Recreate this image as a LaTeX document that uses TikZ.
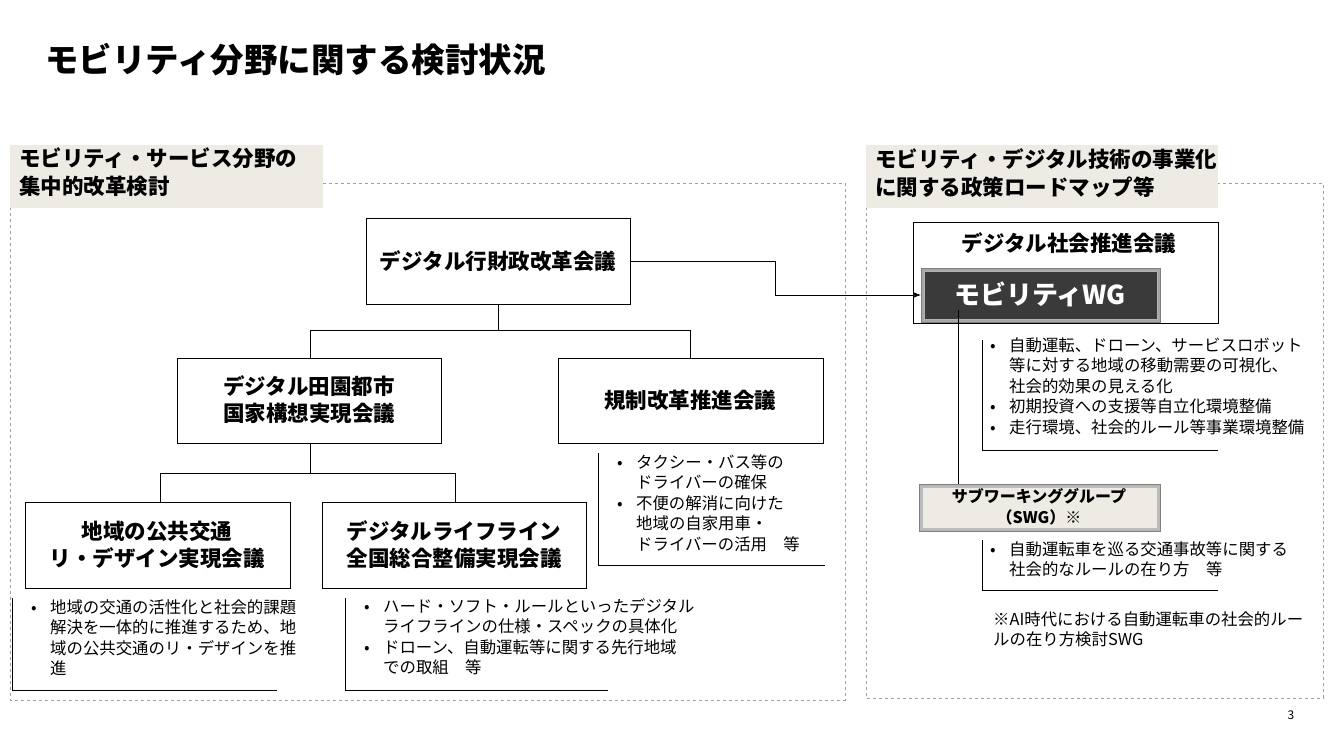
\documentclass[tikz,border=0pt]{standalone}
\usepackage{fontspec}
\setmainfont{Noto Sans CJK JP}
\usetikzlibrary{arrows.meta}
\definecolor{beige}{HTML}{EEEBE4}
\definecolor{dashg}{HTML}{A0A0A0}
\definecolor{wgdark}{HTML}{3A3A3A}
\newcommand{\bu}{\makebox[19pt][l]{•}}
\newcommand{\ind}{\hspace*{19pt}}
\begin{document}
\begin{tikzpicture}[x=1pt,y=-1pt,
  box/.style={draw,line width=0.8pt,fill=white},
  btxt/.style={font=\fontsize{21.5}{27}\selectfont\bfseries,align=center},
  note/.style={anchor=north west,align=left,font=\fontsize{16.4}{20.5}\selectfont,inner sep=0pt},
  frame/.style={draw=dashg,dashed,line width=0.9pt},
  conn/.style={line width=0.7pt}]
\useasboundingbox (0,0) rectangle (1334,750);
\node[anchor=west,font=\fontsize{33.5}{36}\selectfont\bfseries,inner sep=0pt] (title) at (45,60) {モビリティ分野に関する検討状況};
% frames
\draw[frame] (10,183) rectangle (845,700);
\draw[frame] (866,183) rectangle (1323,698);
\fill[beige] (10,145) rectangle (323,208);
\fill[beige] (866,145) rectangle (1218,208);
\node[anchor=north west,align=left,font=\fontsize{21.5}{28}\selectfont\bfseries,inner sep=0pt] (l1) at (19,148) {モビリティ・サービス分野の\\集中的改革検討};
\node[anchor=north west,align=left,font=\fontsize{21.5}{28}\selectfont\bfseries,inner sep=0pt] (l2) at (875,148) {モビリティ・デジタル技術の事業化\\に関する政策ロードマップ等};
% boxes
\draw[box] (366,218) rectangle (630,304);
\node[btxt] (gz) at (498,261) {デジタル行財政改革会議};
\draw[box] (177,358) rectangle (441,443);
\node[btxt] (dd) at (309,400) {デジタル田園都市\\国家構想実現会議};
\draw[box] (558,358) rectangle (823,443);
\node[btxt] (ki) at (690,400) {規制改革推進会議};
\draw[box] (25,502) rectangle (290,588);
\node[btxt] (ch) at (157,545) {地域の公共交通\\リ・デザイン実現会議};
\draw[box] (322,502) rectangle (586,588);
\node[btxt] (ll) at (454,545) {デジタルライフライン\\全国総合整備実現会議};
% tree connectors
\draw[conn] (498,304) -- (498,330) (310,330) -- (690,330) (310,330) -- (310,358) (690,330) -- (690,358);
\draw[conn] (310,443) -- (310,473) (160,473) -- (455,473) (160,473) -- (160,502) (455,473) -- (455,502);
% notes
\draw[conn] (12,598) -- (12,690) -- (277,690);
\node[note] (n1) at (31,599) {\bu 地域の交通の活性化と社会的課題\\\ind 解決を一体的に推進するため、地\\\ind 域の公共交通のリ・デザインを推\\\ind 進};
\draw[conn] (345,598) -- (345,690) -- (608,690);
\node[note] (n2) at (364,598) {\bu ハード・ソフト・ルールといったデジタル\\\ind ライフラインの仕様・スペックの具体化\\\bu ドローン、自動運転等に関する先行地域\\\ind での取組　等};
\draw[conn] (598,453) -- (598,565) -- (825,565);
\node[note] (n3) at (617,454) {\bu タクシー・バス等の\\\ind ドライバーの確保\\\bu 不便の解消に向けた\\\ind 地域の自家用車・\\\ind ドライバーの活用　等};
% right side
\draw[box] (913,222) rectangle (1218,323);
\node[btxt] (ds) at (1069,243) {デジタル社会推進会議};
\draw[fill=gray!70,draw=gray] (921,268) rectangle (1160,322);
\draw[fill=wgdark,draw=gray!60,line width=0.6pt] (924,271) rectangle (1157,319);
\node[font=\fontsize{26}{30}\selectfont\bfseries,text=white] (wg) at (1040,294) {モビリティWG};
\draw[conn,-{Latex[length=7pt]}] (630,261) -- (775,261) -- (775,295) -- (921,295);
\draw[conn] (958,310) -- (958,484);
\draw[conn] (982,340) -- (982,450) -- (1218,450);
\node[note] (n4) at (990,337) {\bu 自動運転、ドローン、サービスロボット\\\ind 等に対する地域の移動需要の可視化、\\\ind 社会的効果の見える化\\\bu 初期投資への支援等自立化環境整備\\\bu 走行環境、社会的ルール等事業環境整備};
\draw[fill=gray!55,draw=gray] (919,484) rectangle (1160,531);
\draw[fill=beige,draw=gray!50] (922,487) rectangle (1157,528);
\node[font=\fontsize{16}{21}\selectfont\bfseries,align=center] (swg) at (1039,507) {サブワーキンググループ\\（SWG）※};
\draw[conn] (982,540) -- (982,590) -- (1218,590);
\node[note] (n5) at (990,541) {\bu 自動運転車を巡る交通事故等に関する\\\ind 社会的なルールの在り方　等};
\node[note] (fn) at (993,611) {※AI時代における自動運転車の社会的ルー\\ルの在り方検討SWG};
\node[font=\fontsize{12}{14}\selectfont] (pg) at (1291,715) {3};
\end{tikzpicture}
\end{document}
